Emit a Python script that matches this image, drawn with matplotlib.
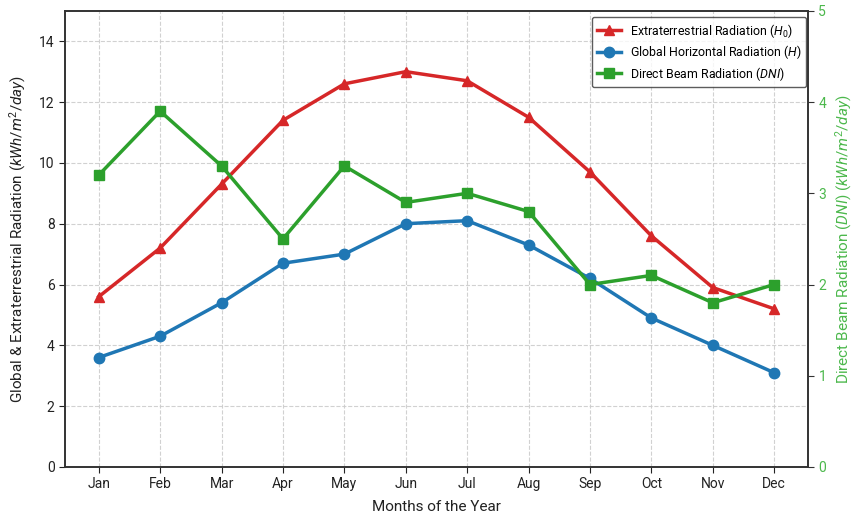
import matplotlib
matplotlib.use("Agg")
import matplotlib.pyplot as plt

plt.rcParams['font.family'] = ['Roboto', 'DejaVu Sans']
plt.rcParams['mathtext.fontset'] = 'custom'
plt.rcParams['mathtext.it'] = 'Roboto:italic'
plt.rcParams['mathtext.rm'] = 'Roboto'

months = ['Jan', 'Feb', 'Mar', 'Apr', 'May', 'Jun',
          'Jul', 'Aug', 'Sep', 'Oct', 'Nov', 'Dec']
extraterrestrial = [5.6, 7.2, 9.3, 11.4, 12.6, 13.0, 12.7, 11.5, 9.7, 7.6, 5.9, 5.2]
global_horizontal = [3.6, 4.3, 5.4, 6.7, 7.0, 8.0, 8.1, 7.3, 6.2, 4.9, 4.0, 3.1]
direct_beam = [3.2, 3.9, 3.3, 2.5, 3.3, 2.9, 3.0, 2.8, 2.0, 2.1, 1.8, 2.0]

red = '#d62728'
blue = '#1f77b4'
green = '#2ca02c'
green_text = '#4cb84c'
spine = '#333333'

fig = plt.figure(figsize=(8.53, 5.16), dpi=100)
ax = fig.add_axes([0.0762, 0.095, 0.871, 0.884])
ax2 = ax.twinx()

x = list(range(len(months)))
l1, = ax.plot(x, extraterrestrial, color=red, marker='^', lw=2.5, ms=7.5,
              label='Extraterrestrial Radiation ($H_0$)')
l2, = ax.plot(x, global_horizontal, color=blue, marker='o', lw=2.5, ms=7.5,
              label='Global Horizontal Radiation ($H$)')
l3, = ax2.plot(x, direct_beam, color=green, marker='s', lw=2.5, ms=7.5,
               label='Direct Beam Radiation ($DNI$)')

ax.set_xlim(-0.55, 11.55)
ax.set_ylim(0, 15)
ax.set_yticks(range(0, 15, 2))
ax2.set_ylim(0, 5)
ax2.set_yticks(range(0, 6))

ax.set_xticks(x)
ax.set_xticklabels(months)
ax.grid(True, ls='--', color='#cccccc', lw=0.8, alpha=0.9)
ax.set_axisbelow(True)

ax.set_xlabel('Months of the Year', fontsize=11, labelpad=6, color='#222222')
ax.set_ylabel('Global & Extraterrestrial Radiation ($kWh/m^2/day$)',
              fontsize=11, labelpad=8, color='#222222')
ax2.set_ylabel('Direct Beam Radiation ($DNI$) ($kWh/m^2/day$)',
               fontsize=11, labelpad=5, color=green_text)

for a in (ax, ax2):
    for s in a.spines.values():
        s.set_color(spine)
        s.set_linewidth(1.2)
ax.tick_params(axis='both', labelsize=10, colors='#222222', length=4)
ax2.tick_params(axis='y', labelsize=10, colors=spine, labelcolor=green_text, length=4)

leg = ax.legend(handles=[l1, l2, l3], loc='upper right', fontsize=8.9,
                frameon=True, fancybox=True, borderpad=0.4, labelspacing=0.28,
                handletextpad=0.7, borderaxespad=0,
                bbox_to_anchor=(0.998, 0.987))
leg.get_frame().set_edgecolor('#333333')
leg.get_frame().set_linewidth(1.0)
leg.set_zorder(10)

fig.savefig('out.png', dpi=100)
